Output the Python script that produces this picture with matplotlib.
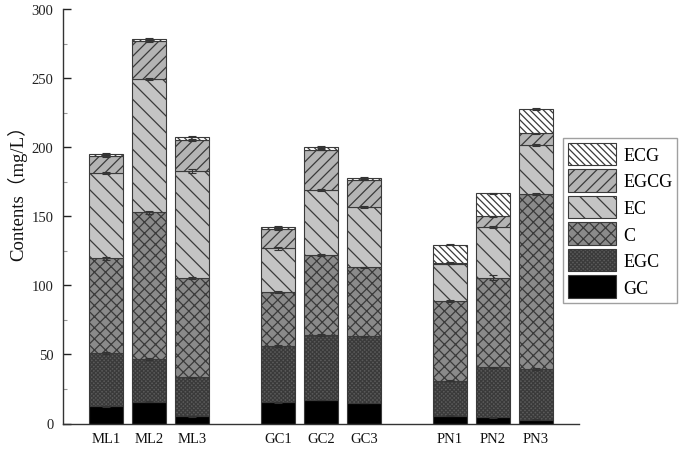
import matplotlib

matplotlib.use("Agg")
import matplotlib.pyplot as plt
import numpy as np
from matplotlib.ticker import MultipleLocator

# samples and stacking order (bottom -> top)
samples = ["ML1", "ML2", "ML3", "GC1", "GC2", "GC3", "PN1", "PN2", "PN3"]
positions = [1, 2, 3, 5, 6, 7, 9, 10, 11]
components = ["GC", "EGC", "C", "EC", "EGCG", "ECG"]

gc = [12.4, 15.8, 5.2, 15.3, 17.0, 14.8, 5.6, 4.5, 2.8]
egc = [38.6, 30.9, 28.2, 40.6, 47.1, 48.3, 25.4, 36.2, 36.6]
c = [68.6, 106.2, 71.7, 39.1, 58.1, 49.9, 57.7, 64.8, 126.7]
ec = [61.7, 96.4, 77.6, 31.8, 46.8, 43.5, 27.0, 36.5, 35.7]
egcg = [12.1, 27.7, 22.7, 14.0, 29.2, 20.0, 0.6, 8.0, 8.2]
ecg = [1.6, 1.5, 2.2, 1.2, 1.9, 1.2, 13.2, 16.6, 17.6]

gc_err = [0.3, 0.3, 0.2, 0.3, 0.3, 0.3, 0.2, 0.2, 0.2]
egc_err = [0.6, 0.8, 0.5, 0.8, 0.6, 0.5, 0.6, 0.5, 0.6]
c_err = [1.2, 1.0, 0.8, 0.6, 0.8, 0.6, 1.0, 2.0, 0.8]
ec_err = [1.0, 1.0, 1.2, 1.2, 0.8, 0.8, 0.6, 0.8, 0.6]
egcg_err = [0.8, 0.8, 0.6, 0.8, 0.6, 0.6, 0.4, 0.4, 0.4]
ecg_err = [0.8, 0.6, 0.6, 0.8, 1.0, 0.6, 0.4, 0.4, 0.4]

values = [gc, egc, c, ec, egcg, ecg]
errors = [gc_err, egc_err, c_err, ec_err, egcg_err, ecg_err]

faces = ["#000000", "#5a5a5a", "#8a8a8a", "#c4c4c4", "#b4b4b4", "#ffffff"]
hatches = ["", "xxxxxxxx", "xxx", "\\\\", "///", "\\\\\\\\\\"]

plt.rcParams.update(
    {
        "font.family": ["Liberation Serif", "Noto Sans CJK SC"],
        "hatch.linewidth": 0.9,
        "hatch.color": "#333333",
    }
)

fig = plt.figure(figsize=(6.85, 4.52), dpi=100)
ax = fig.add_axes([63 / 685, 27.5 / 452, 516 / 685, 414.5 / 452])

bottom = np.zeros(len(samples))
handles = []
for name, vals, errs, fc, h in zip(components, values, errors, faces, hatches):
    vals = np.array(vals)
    bars = ax.bar(
        positions, vals, width=0.8, bottom=bottom, color=fc, edgecolor="#3a3a3a",
        linewidth=0.8, hatch=h, label=name, zorder=2,
    )
    ax.errorbar(
        positions, bottom + vals, yerr=errs, fmt="none", ecolor="#333333",
        elinewidth=0.8, capsize=3, capthick=0.8, zorder=3,
    )
    handles.append(bars)
    bottom = bottom + vals

ax.set_xlim(0, 12)
ax.set_ylim(0, 300)
ax.set_xticks(positions)
ax.set_xticklabels(samples)
ax.yaxis.set_major_locator(MultipleLocator(50))
ax.yaxis.set_minor_locator(MultipleLocator(25))
ax.tick_params(axis="x", length=0, pad=6, labelsize=10.5, colors="#111111")
ax.tick_params(axis="y", which="major", direction="in", length=6, width=1,
               pad=7, labelsize=10.5, colors="#222222")
ax.tick_params(axis="y", which="minor", direction="in", length=3, width=0.8,
               color="#999999")

for side in ["top", "right"]:
    ax.spines[side].set_visible(False)
for side in ["left", "bottom"]:
    ax.spines[side].set_color("#333333")
    ax.spines[side].set_linewidth(1.0)

ax.set_ylabel("Contents（mg/L）", fontsize=13.5, color="#111111")
ax.yaxis.set_label_coords(-36 / 516, 0.57)

leg = fig.legend(
    handles[::-1], components[::-1], loc="upper left",
    bbox_to_anchor=(563 / 685, 1 - 139 / 452), bbox_transform=fig.transFigure,
    fontsize=13, handlelength=2.7, handleheight=1.55, handletextpad=0.4,
    labelspacing=0.22, borderpad=0.25, borderaxespad=0, frameon=True,
    fancybox=False, edgecolor="#888888",
)
leg.get_frame().set_linewidth(1.0)

fig.savefig("out.png", dpi=100)
